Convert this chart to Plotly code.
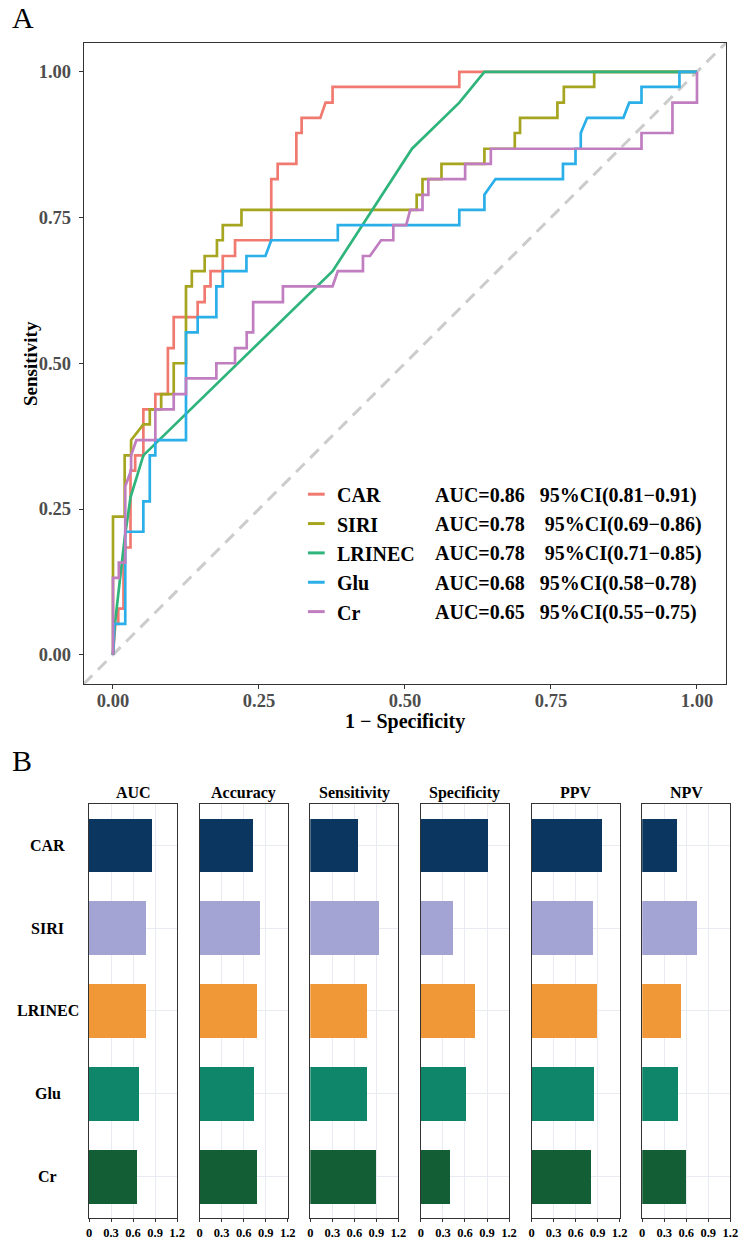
import plotly.graph_objects as go

# ---------------- Panel A: ROC curves ----------------
roc_names = ["CAR", "SIRI", "LRINEC", "Glu", "Cr"]
roc_colors = ["#F07A70", "#A6A520", "#2FB47B", "#2BAFE8", "#C07EC0"]
roc_labels = [
    "AUC=0.86   95%CI(0.81−0.91)",
    "AUC=0.78    95%CI(0.69−0.86)",
    "AUC=0.78    95%CI(0.71−0.85)",
    "AUC=0.68   95%CI(0.58−0.78)",
    "AUC=0.65   95%CI(0.55−0.75)",
]

car_fpr = [0, 0.004, 0.009, 0.009, 0.018, 0.018, 0.021, 0.030, 0.030, 0.038, 0.038, 0.052, 0.052,
           0.0725, 0.0725, 0.094, 0.094, 0.104, 0.104, 0.145, 0.145, 0.157, 0.157, 0.167, 0.167,
           0.188, 0.188, 0.209, 0.209, 0.271, 0.271, 0.282, 0.282, 0.314, 0.314, 0.323, 0.323,
           0.355, 0.364, 0.376, 0.376, 0.593, 0.593, 1.0]
car_tpr = [0, 0.053, 0.053, 0.079, 0.079, 0.158, 0.184, 0.184, 0.316, 0.316, 0.342, 0.342, 0.421,
           0.421, 0.447, 0.447, 0.526, 0.526, 0.579, 0.579, 0.605, 0.605, 0.632, 0.632, 0.658,
           0.658, 0.684, 0.684, 0.711, 0.711, 0.816, 0.816, 0.842, 0.842, 0.895, 0.895, 0.921,
           0.921, 0.947, 0.947, 0.974, 0.974, 1.0, 1.0]

siri_fpr = [0, 0, 0.020, 0.020, 0.031, 0.031, 0.052, 0.063, 0.063, 0.0825, 0.0825, 0.104, 0.104,
            0.125, 0.125, 0.135, 0.135, 0.157, 0.157, 0.178, 0.178, 0.188, 0.188, 0.220, 0.220,
            0.520, 0.520, 0.530, 0.530, 0.5625, 0.5625, 0.636, 0.636, 0.688, 0.688, 0.697, 0.697,
            0.761, 0.761, 0.772, 0.772, 0.824, 0.824, 1.0]
siri_tpr = [0, 0.237, 0.237, 0.342, 0.342, 0.368, 0.395, 0.395, 0.421, 0.421, 0.447, 0.447, 0.500,
            0.500, 0.632, 0.632, 0.658, 0.658, 0.684, 0.684, 0.711, 0.711, 0.737, 0.737, 0.763,
            0.763, 0.789, 0.789, 0.816, 0.816, 0.842, 0.842, 0.868, 0.868, 0.895, 0.895, 0.921,
            0.921, 0.947, 0.947, 0.974, 0.974, 1.0, 1.0]

lrinec_fpr = [0, 0.003, 0.012, 0.020, 0.030, 0.052, 0.376, 0.512, 0.593, 0.636, 1.0]
lrinec_tpr = [0, 0.050, 0.130, 0.200, 0.270, 0.342, 0.658, 0.868, 0.947, 1.0, 1.0]

glu_fpr = [0, 0.002, 0.021, 0.021, 0.052, 0.052, 0.063, 0.063, 0.0725, 0.0725, 0.125, 0.125,
           0.145, 0.145, 0.177, 0.177, 0.188, 0.188, 0.2285, 0.2285, 0.261, 0.271, 0.385, 0.385,
           0.593, 0.593, 0.636, 0.636, 0.655, 0.7705, 0.7705, 0.792, 0.792, 0.801, 0.801, 0.812,
           0.874, 0.884, 0.905, 0.905, 0.970, 0.970, 1.0]
glu_tpr = [0, 0.053, 0.053, 0.211, 0.211, 0.263, 0.263, 0.342, 0.342, 0.368, 0.368, 0.553,
           0.553, 0.579, 0.579, 0.632, 0.632, 0.658, 0.658, 0.684, 0.684, 0.711, 0.711, 0.737,
           0.737, 0.763, 0.763, 0.789, 0.816, 0.816, 0.842, 0.842, 0.868, 0.868, 0.895, 0.921,
           0.921, 0.947, 0.947, 0.974, 0.974, 1.0, 1.0]

cr_fpr = [0, 0, 0.010, 0.010, 0.021, 0.021, 0.031, 0.031, 0.040, 0.0725, 0.0725, 0.104, 0.104,
          0.125, 0.125, 0.177, 0.177, 0.209, 0.209, 0.229, 0.229, 0.240, 0.240, 0.291, 0.291,
          0.376, 0.385, 0.428, 0.428, 0.440, 0.459, 0.480, 0.480, 0.502, 0.509, 0.530, 0.530,
          0.540, 0.540, 0.603, 0.603, 0.647, 0.647, 0.905, 0.905, 0.958, 0.958, 1.0, 1.0]
cr_tpr = [0, 0.132, 0.132, 0.158, 0.158, 0.289, 0.316, 0.342, 0.368, 0.368, 0.421, 0.421, 0.447,
          0.447, 0.474, 0.474, 0.500, 0.500, 0.526, 0.526, 0.553, 0.553, 0.605, 0.605, 0.632,
          0.632, 0.658, 0.658, 0.684, 0.684, 0.711, 0.711, 0.737, 0.737, 0.763, 0.763, 0.789,
          0.789, 0.816, 0.816, 0.842, 0.842, 0.868, 0.868, 0.895, 0.895, 0.947, 0.947, 1.0]

roc_fpr = [car_fpr, siri_fpr, lrinec_fpr, glu_fpr, cr_fpr]
roc_tpr = [car_tpr, siri_tpr, lrinec_tpr, glu_tpr, cr_tpr]
a_ticks = [0, 0.25, 0.5, 0.75, 1.0]
a_ticktext = ["0.00", "0.25", "0.50", "0.75", "1.00"]

# ---------------- Panel B: metric bars ----------------
models = ["CAR", "SIRI", "LRINEC", "Glu", "Cr"]
metrics = ["AUC", "Accuracy", "Sensitivity", "Specificity", "PPV", "NPV"]
auc = [0.86, 0.78, 0.78, 0.68, 0.65]
accuracy = [0.72, 0.82, 0.77, 0.73, 0.78]
sensitivity = [0.65, 0.945, 0.77, 0.77, 0.90]
specificity = [0.915, 0.43, 0.735, 0.615, 0.40]
ppv = [0.95, 0.825, 0.885, 0.845, 0.80]
npv = [0.47, 0.755, 0.535, 0.485, 0.60]
metric_values = [auc, accuracy, sensitivity, specificity, ppv, npv]
bar_colors = ["#0B3660", "#A4A4D4", "#F09837", "#0F866A", "#135E35"]
b_ticks = [0, 0.3, 0.6, 0.9, 1.2]
b_ticktext = ["0", "0.3", "0.6", "0.9", "1.2"]

# ---------------- Figure ----------------
W, H = 746, 1240
SERIF = "Liberation Serif"


def px_x(p):
    return p / W


def px_y(p):
    return 1 - p / H


fig = go.Figure()

for name, col, fx, ty in zip(roc_names, roc_colors, roc_fpr, roc_tpr):
    fig.add_trace(go.Scatter(x=fx, y=ty, mode="lines", name=name,
                             line=dict(color=col, width=2.7),
                             xaxis="x", yaxis="y", showlegend=False, hoverinfo="skip"))

for k, (metric, vals) in enumerate(zip(metrics, metric_values)):
    ax = str(k + 2)
    fig.add_trace(go.Bar(x=vals, y=models, orientation="h", width=0.65,
                         marker=dict(color=bar_colors, line=dict(width=0)),
                         xaxis="x" + ax, yaxis="y" + ax, showlegend=False,
                         name=metric))

layout = dict(
    width=W, height=H,
    margin=dict(l=0, r=0, t=0, b=0),
    paper_bgcolor="white", plot_bgcolor="white",
    font=dict(family=SERIF, color="black"),
    showlegend=False,
    bargap=0,
)

AXLINE = "#333333"
layout["xaxis"] = dict(domain=[px_x(82), px_x(734)], range=[-0.05, 1.05],
                       tickvals=a_ticks, ticktext=a_ticktext, ticks="outside", ticklen=4,
                       tickcolor=AXLINE, showline=True, mirror=True, linecolor=AXLINE,
                       linewidth=1, showgrid=False, zeroline=False, anchor="y",
                       ticklabelstandoff=-4,
                       tickfont=dict(family=SERIF, size=18.5, color="#4D4D4D", weight="bold"))
layout["yaxis"] = dict(domain=[px_y(685), px_y(42.7)], range=[-0.05, 1.05],
                       tickvals=a_ticks, ticktext=a_ticktext, ticks="outside", ticklen=4,
                       tickcolor=AXLINE, showline=True, mirror=True, linecolor=AXLINE,
                       linewidth=1, showgrid=False, zeroline=False, anchor="x",
                       ticklabelstandoff=4,
                       tickfont=dict(family=SERIF, size=18.5, color="#4D4D4D", weight="bold"))

left0, stride, pw = 87.3, 112.3, 89.4
for k in range(6):
    ax = str(k + 2)
    x0 = left0 + k * stride
    layout["xaxis" + ax] = dict(domain=[px_x(x0), px_x(x0 + pw)], range=[0, 1.2],
                                tickvals=b_ticks, ticktext=b_ticktext, ticks="outside",
                                ticklen=3, tickcolor=AXLINE, showline=True, mirror=True,
                                linecolor=AXLINE, linewidth=1, showgrid=True,
                                gridcolor="#E9EBF2", gridwidth=1, zeroline=False,
                                anchor="y" + ax,
                                tickfont=dict(family=SERIF, size=12.5, color="black",
                                              weight="bold"))
    layout["yaxis" + ax] = dict(domain=[px_y(1220), px_y(805)], type="category",
                                categoryorder="array", categoryarray=models,
                                range=[4.5, -0.5], showticklabels=False, ticks="",
                                showline=True, mirror=True, linecolor=AXLINE, linewidth=1,
                                showgrid=True, gridcolor="#E9EBF2", gridwidth=1,
                                zeroline=False, anchor="x" + ax)

annotations = []
shapes = []

# diagonal reference line
shapes.append(dict(type="line", xref="x", yref="y", x0=-0.05, y0=-0.05, x1=1.05, y1=1.05,
                   line=dict(color="#CCCCCC", width=3, dash="12px,8px"), layer="below"))

# panel labels
annotations.append(dict(text="A", x=px_x(7), y=px_y(18), xref="paper", yref="paper",
                        xanchor="left", yanchor="middle", showarrow=False,
                        font=dict(family=SERIF, size=30, color="black")))
annotations.append(dict(text="B", x=px_x(7), y=px_y(762), xref="paper", yref="paper",
                        xanchor="left", yanchor="middle", showarrow=False,
                        font=dict(family=SERIF, size=30, color="black")))

# axis titles (panel A)
annotations.append(dict(text="Sensitivity", x=px_x(28), y=px_y(364), xref="paper",
                        yref="paper", textangle=-90, xanchor="center", yanchor="middle",
                        showarrow=False,
                        font=dict(family=SERIF, size=19, color="black", weight="bold")))
annotations.append(dict(text="1 − Specificity", x=px_x(408), y=px_y(723), xref="paper",
                        yref="paper", xanchor="center", yanchor="middle", showarrow=False,
                        font=dict(family=SERIF, size=20, color="black", weight="bold")))

# legend (manual, inside panel A)
for i, (name, col, lab) in enumerate(zip(roc_names, roc_colors, roc_labels)):
    yc = 496 + i * 29.4
    shapes.append(dict(type="line", xref="paper", yref="paper",
                       x0=px_x(309.5), x1=px_x(326.5), y0=px_y(yc - 1), y1=px_y(yc - 1),
                       line=dict(color=col, width=3)))
    annotations.append(dict(text=name, x=px_x(337), y=px_y(yc), xref="paper", yref="paper",
                            xanchor="left", yanchor="middle", showarrow=False,
                            font=dict(family=SERIF, size=20, color="black", weight="bold")))
    annotations.append(dict(text=lab.replace(" ", "\u00a0"), x=px_x(436.5), y=px_y(yc),
                            xref="paper", yref="paper", xanchor="left", yanchor="middle",
                            showarrow=False,
                            font=dict(family=SERIF, size=20, color="black", weight="bold")))

# panel B strip titles
for k, metric in enumerate(metrics):
    x0 = left0 + k * stride
    annotations.append(dict(text=metric, x=px_x(x0 + pw / 2), y=px_y(794), xref="paper",
                            yref="paper", xanchor="center", yanchor="middle", showarrow=False,
                            font=dict(family=SERIF, size=16, color="black", weight="bold")))

# panel B category labels (centred)
for m in models:
    annotations.append(dict(text=m, x=px_x(45.5), y=m, xref="paper", yref="y2",
                            xanchor="center", yanchor="middle", showarrow=False,
                            font=dict(family=SERIF, size=16, color="black", weight="bold")))

layout["annotations"] = annotations
layout["shapes"] = shapes
fig.update_layout(**layout)

fig.write_html("out.html")
